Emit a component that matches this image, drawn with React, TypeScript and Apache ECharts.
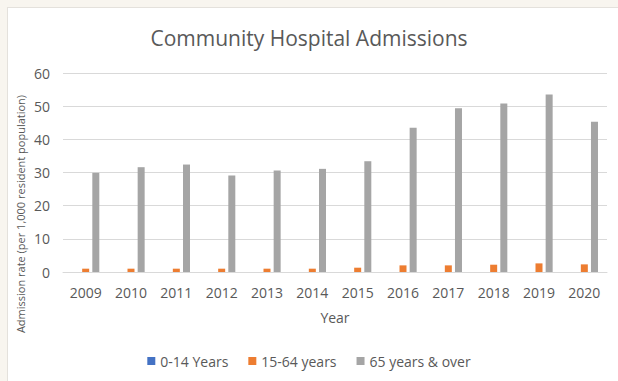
import React, { useEffect, useRef } from "react";
import * as echarts from "echarts";

// Admission years shown along the category axis
const years = ["2009", "2010", "2011", "2012", "2013", "2014", "2015", "2016", "2017", "2018", "2019", "2020"];

// Admission rate per 1,000 resident population, by age band
const age0to14 = [0, 0, 0, 0, 0, 0, 0, 0, 0, 0, 0, 0];
const age15to64 = [1.0, 1.0, 1.0, 1.0, 1.0, 1.0, 1.3, 2.0, 2.0, 2.2, 2.6, 2.3];
const age65plus = [29.9, 31.6, 32.4, 29.1, 30.6, 31.1, 33.4, 43.5, 49.4, 50.8, 53.5, 45.3];

const seriesNames = ["0-14 Years", "15-64 years", "65 years & over"];
const yTicks = { min: 0, max: 60, interval: 10 };

const FONT = "'Open Sans', sans-serif";
const TEXT = "#595959";

export default function App() {
  const ref = useRef<HTMLDivElement>(null);

  useEffect(() => {
    if (!ref.current) return;
    const chart = echarts.init(ref.current, undefined, { renderer: "svg" });
    const bar = (name: string, data: number[], color: string) => ({
      name,
      type: "bar",
      data,
      barWidth: 7,
      barGap: "45%",
      itemStyle: { color },
    });
    chart.setOption({
      animation: false,
      backgroundColor: "transparent",
      textStyle: { fontFamily: FONT },
      color: ["#4472c4", "#ed7d31", "#a5a5a5"],
      title: {
        text: "Community Hospital Admissions",
        left: "center",
        top: 22,
        textStyle: { fontFamily: FONT, fontSize: 21, fontWeight: "normal", color: TEXT },
      },
      grid: { left: 63, right: 11, top: 73, bottom: 109 },
      legend: {
        bottom: 8,
        left: "center",
        icon: "rect",
        itemWidth: 8,
        itemHeight: 8,
        itemGap: 20,
        data: seriesNames,
        textStyle: { fontFamily: FONT, fontSize: 14, color: TEXT },
      },
      xAxis: {
        type: "category",
        data: years,
        name: "Year",
        nameLocation: "middle",
        nameGap: 38,
        nameTextStyle: { fontFamily: FONT, fontSize: 14, color: TEXT },
        axisLine: { lineStyle: { color: "#d9d9d9", width: 1 } },
        axisTick: { show: false },
        axisLabel: { color: TEXT, fontSize: 14, margin: 13, fontFamily: FONT },
      },
      yAxis: {
        type: "value",
        min: yTicks.min,
        max: yTicks.max,
        interval: yTicks.interval,
        axisLine: { show: false },
        axisTick: { show: false },
        axisLabel: { color: TEXT, fontSize: 14, margin: 13, fontFamily: FONT },
        splitLine: { lineStyle: { color: "#d9d9d9", width: 1 } },
      },
      graphic: [
        {
          type: "text",
          x: 20,
          y: 214,
          rotation: Math.PI / 2,
          style: {
            text: "Admission rate (per 1,000 resident population)",
            fontFamily: FONT,
            fontSize: 11,
            fill: TEXT,
            align: "center",
            verticalAlign: "middle",
          },
        },
      ],
      series: [
        bar(seriesNames[0], age0to14, "#4472c4"),
        bar(seriesNames[1], age15to64, "#ed7d31"),
        bar(seriesNames[2], age65plus, "#a5a5a5"),
      ],
    });
    return () => chart.dispose();
  }, []);

  return (
    <div
      style={{
        position: "fixed",
        left: 0,
        top: 0,
        width: 618,
        height: 381,
        background: "#f8f5ef",
        overflow: "hidden",
      }}
    >
      <div
        style={{
          position: "absolute",
          left: 7,
          top: 7,
          width: 611,
          height: 374,
          background: "#ffffff",
          borderTop: "1px solid #e4e1dc",
          borderLeft: "1px solid #e4e1dc",
          boxSizing: "border-box",
        }}
      />
      <div ref={ref} style={{ position: "absolute", left: 0, top: 0, width: 618, height: 381 }} />
    </div>
  );
}
